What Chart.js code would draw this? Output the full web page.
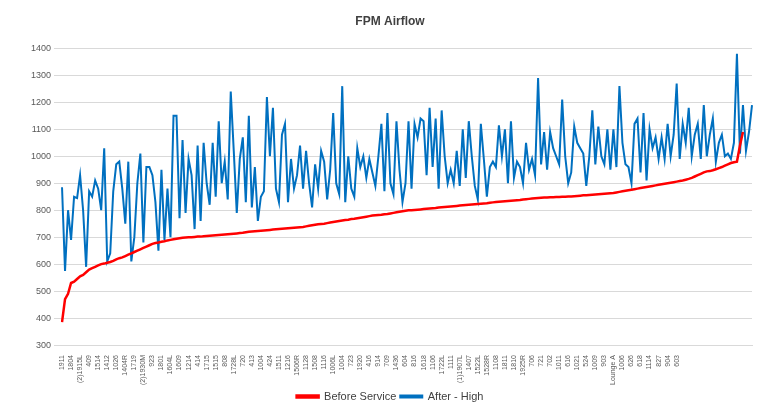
<!DOCTYPE html>
<html>
<head>
<meta charset="utf-8">
<script src="https://cdn.jsdelivr.net/npm/chart.js@4"></script>
<style>
  body { margin: 0; background: #fff; }
  #wrap { width: 772px; height: 412px; }
</style>
</head>
<body>
<div id="wrap"><canvas id="myChart"></canvas></div>
<script>
// every third room gets a tick label
const tickLabels = ["1911","1804","(2)1915L","409","1514","1412","1026","1404R","1719","(2)1930M",
  "923","1801","1604L","1609","1214","414","1715","1515","808","1728L","720","413","1004","424",
  "1511","1216","1506R","1128","1508","1116","1006L","1004","723","1920","416","914","709","1436",
  "604","816","1618","1106","1722L","1111","(1)1907L","1407","1522L","1528R","1108","1811","1810",
  "1925R","706","721","702","1011","616","1021","524","1009","903","Lounge A","1006","626","618",
  "1114","827","904","603"];

const beforeService = [
  385,470,490,530,535,545,555,560,570,580,585,590,595,600,602,605,608,612,618,622,
  625,630,635,640,645,650,655,660,665,670,675,678,680,683,685,688,690,692,694,696,
  698,699,700,700,701,702,702,703,704,705,706,707,708,709,710,711,712,713,714,715,
  716,718,720,721,722,723,724,725,726,727,728,729,730,731,732,733,734,735,736,737,
  738,740,742,744,746,748,749,750,752,754,756,758,760,762,764,765,767,768,770,772,
  774,776,778,780,781,782,783,785,786,788,790,792,794,796,798,800,800,801,802,803,
  804,805,806,807,808,810,811,812,813,814,815,816,817,818,819,820,821,822,823,824,
  825,826,828,829,830,831,832,833,834,835,836,837,838,840,841,842,843,844,845,846,
  847,847,848,848,849,849,850,850,851,851,852,853,854,855,855,856,857,858,859,860,
  861,862,863,864,866,868,870,872,874,876,878,880,882,884,886,888,890,892,894,896,
  898,900,902,904,906,908,910,913,916,920,925,930,935,940,944,945,948,952,956,960,
  965,970,975,978,980,1040,1090
];

const afterHigh = [
  885,575,800,690,850,845,930,800,590,870,850,910,880,800,1030,610,640,870,970,980,
  880,750,980,610,700,900,1010,680,960,960,930,830,650,950,690,880,700,1150,1150,770,
  1060,790,990,930,730,1040,760,1050,900,820,1050,850,1130,900,980,840,1240,1020,790,990,
  1070,830,1150,810,960,760,850,870,1220,1000,1180,880,830,1080,1120,830,990,880,930,1040,
  880,1020,900,810,970,880,1020,980,840,950,1160,900,860,1260,830,1000,880,850,1030,960,
  1000,920,990,940,890,1000,1120,870,1160,900,860,1130,950,830,900,1130,880,1120,1070,1140,
  1130,930,1180,960,1140,880,1170,1000,900,950,900,1020,890,1100,920,1130,1000,890,840,1120,
  990,850,960,980,960,1115,1000,1100,900,1130,920,980,960,900,1050,950,990,930,1290,970,
  1090,950,1090,1030,1000,970,1210,1000,900,940,1110,1050,1030,1010,890,1000,1170,970,1110,1000,
  970,1100,950,1100,960,1260,1050,970,960,900,1120,1140,940,1160,910,1100,1030,1070,990,1070,
  990,1120,1000,1080,1270,990,1120,1050,1180,1000,1080,1120,990,1190,1000,1080,1140,980,1050,1080,
  1000,1010,990,1050,1380,1010,1190,1020,1090,1190
];

const labels = afterHigh.map((v, i) => (i % 3 === 0 ? tickLabels[i / 3] || "" : ""));

const ctx = document.getElementById("myChart").getContext("2d");
new Chart(ctx, {
  type: "line",
  data: {
    labels: labels,
    datasets: [
      {
        label: "Before Service",
        data: beforeService,
        borderColor: "#ff0000",
        backgroundColor: "#ff0000",
        borderWidth: 2.5,
        pointRadius: 0,
        tension: 0,
      },
      {
        label: "After - High",
        data: afterHigh,
        borderColor: "#0070c0",
        backgroundColor: "#0070c0",
        borderWidth: 2,
        pointRadius: 0,
        tension: 0,
      },
    ],
  },
  options: {
    responsive: true,
    maintainAspectRatio: false,
    animation: false,
    layout: { padding: { left: 28, right: 20, top: 6, bottom: 0 } },
    plugins: {
      title: {
        display: true,
        text: "FPM Airflow",
        color: "#404040",
        font: { family: "Liberation Sans", size: 12, weight: "bold" },
        padding: { top: 8, bottom: 20 },
      },
      legend: {
        position: "bottom",
        labels: {
          color: "#404040",
          font: { family: "Liberation Sans", size: 11 },
          boxWidth: 22,
          boxHeight: 2,
          padding: 4,
        },
      },
    },
    scales: {
      x: {
        grid: { display: false },
        border: { color: "#d9d9d9" },
        ticks: {
          autoSkip: false,
          maxRotation: 90,
          minRotation: 90,
          color: "#595959",
          font: { family: "Liberation Sans", size: 7 },
          padding: 2,
        },
      },
      y: {
        min: 300,
        max: 1400,
        grid: { color: "#d9d9d9" },
        border: { display: false },
        ticks: {
          stepSize: 100,
          color: "#595959",
          font: { family: "Liberation Sans", size: 9 },
          callback: (v) => String(v),
        },
      },
    },
  },
});
</script>
</body>
</html>
